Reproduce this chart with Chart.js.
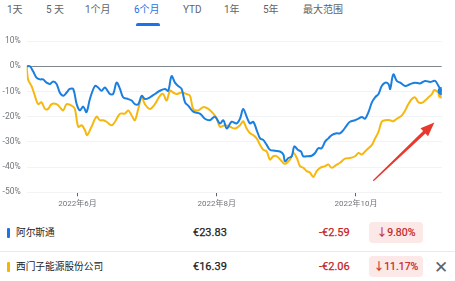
<!DOCTYPE html>
<html>
<head>
<meta charset="utf-8">
<script src="https://cdn.jsdelivr.net/npm/chart.js@4.4.0/dist/chart.umd.min.js"></script>
<style>
  body { margin: 0; width: 455px; height: 281px; background: #fff; position: relative; overflow: hidden;
         font-family: Roboto, 'Noto Sans CJK SC', sans-serif; color: #5f6368; }
  .tab { position: absolute; top: 3px; font-size: 10px; line-height: 14px; color: #5f6368; white-space: nowrap; }
  .tab.active { color: #1a73e8; }
  .underline { position: absolute; left: 136px; top: 23px; width: 24px; height: 3px; background: #1a73e8; border-radius: 2px 2px 0 0; }
  #chartBox { position: absolute; left: 0; top: 30px; width: 455px; height: 185px; }
  .row { position: absolute; left: 0; width: 455px; height: 24px; }
  .row div { position: absolute; top: 0; line-height: 24px; white-space: nowrap; }
  .bar { left: 7px; width: 3px; height: 10px; margin-top: 7px; border-radius: 1px; }
  .name { left: 16px; font-size: 9.7px; color: #202124; }
  .price { left: 193px; font-size: 11px; color: #202124; -webkit-text-stroke: 0.25px #202124; }
  .chg { left: 319px; font-size: 11px; color: #c5221f; -webkit-text-stroke: 0.25px #c5221f; }
  .pill { left: 369px; width: 54px; height: 21px; margin-top: 1px; background: #fce8e6; border-radius: 4px;
          text-align: center; font-size: 10.5px; color: #c5221f; -webkit-text-stroke: 0.2px #c5221f; line-height: 21px !important; }
  .close { left: 434px; font-size: 17px; color: #5f6368; }
  .divider { position: absolute; left: 0; top: 251px; width: 455px; height: 1px; background: #e8eaed; }
</style>
</head>
<body>
<span class="tab" style="left:7px">1天</span>
<span class="tab" style="left:46px">5 天</span>
<span class="tab" style="left:85px">1个月</span>
<span class="tab active" style="left:134px">6个月</span>
<span class="tab" style="left:183px">YTD</span>
<span class="tab" style="left:224px">1年</span>
<span class="tab" style="left:263px">5年</span>
<span class="tab" style="left:303px">最大范围</span>
<div class="underline"></div>

<div id="chartBox"><canvas id="perfChart"></canvas></div>

<div class="row" style="top:221px">
  <div class="bar" style="background:#1a73e8"></div>
  <div class="name">阿尔斯通</div>
  <div class="price">€23.83</div>
  <div class="chg">-€2.59</div>
  <div class="pill">↓9.80%</div>
</div>
<div class="divider"></div>
<div class="row" style="top:255px">
  <div class="bar" style="background:#f4b400"></div>
  <div class="name">西门子能源股份公司</div>
  <div class="price">€16.39</div>
  <div class="chg">-€2.06</div>
  <div class="pill">↓11.17%</div>
  <div class="close">✕</div>
</div>

<script>
// days counted from 2022-06-01, values are % change since start of range
const alstomDays = [-22.3, -20.9, -19.5, -18.0, -16.5, -15.1, -13.6, -12.1, -10.7, -9.2, -7.8, -6.3, -4.8, -3.4, -1.9,
  -0.4, 1.0, 2.5, 3.9, 5.4, 7.6, 9.0, 10.5, 12.0, 14.2, 15.6, 17.1, 18.6, 20.0, 22.2, 23.7, 25.1, 26.6, 28.1, 29.5,
  31.7, 33.9, 36.1, 38.3, 39.7, 41.2, 42.7, 44.1, 45.6, 47.1, 48.5, 50.7, 53.6, 55.8, 58.0, 60.2, 62.4, 63.9, 65.4,
  67.5, 69.7, 71.2, 72.6, 74.1, 75.6, 77.0, 78.5, 80.0, 81.4, 82.9, 84.3, 86.5, 88.7, 90.2, 90.9, 92.4, 93.9, 95.0,
  96.5, 97.9, 98.9, 100.4, 102.6, 104.1, 105.5, 107.0, 108.5, 109.9, 111.4, 113.6, 115.0, 116.5, 118.0, 119.4, 121.6,
  123.1, 124.6, 126.0, 127.5, 129.0, 130.4, 131.9, 133.3, 134.8, 136.3, 137.0, 138.4, 139.9, 141.4, 143.6, 145.7,
  147.9, 150.1, 152.3, 154.5, 156.7, 158.2, 159.6];
const alstomPct = [0, 0, -2, -4.5, -5.2, -5.2, -6.5, -7, -6, -7, -10.4, -11.7, -10.4, -9, -9,
  -15, -17.5, -16, -18.2, -13, -7.8, -8.4, -9.7, -8.4, -11, -11, -6.5, -9, -12.3, -13, -13.6, -15, -15, -11.7, -13,
  -12.3, -11, -9.7, -9, -9.7, -3.9, -6.5, -7.8, -9, -14.3, -15.6, -18, -18.8, -20.8, -21.4, -20, -22.7, -21.4, -24.7,
  -22, -22.7, -20.8, -16.9, -20, -22.7, -22, -25.3, -28.6, -29.2, -31.2, -33.1, -33.5, -33.8, -35, -37.7, -36.4, -35.7, -31.8,
  -33.1, -33.8, -35.7, -35.7, -35.5, -34.4, -32.5, -32.5, -29.9, -28.6, -27.3, -26.6, -26.6, -25.3, -23.4, -22, -21.4,
  -20.8, -20.1, -20.8, -18.2, -14.3, -12.3, -11, -7.8, -6.5, -7.1, -9, -3.2, -5.8, -6.5, -7.8, -7.1,
  -6.5, -6.8, -5.8, -6.2, -5.8, -7.8, -9.8];

const siemensDays = [-22.3, -21.7, -20.2, -18.7, -17.3, -15.8, -14.3, -12.9, -11.4, -9.2, -7.8, -6.3, -4.8, -2.6, -1.2,
  0.3, 1.8, 3.2, 4.2, 6.1, 8.3, 9.8, 11.2, 12.7, 14.9, 16.4, 18.6, 20.7, 22.2, 23.7, 25.1, 26.6, 28.1, 29.5, 31.7,
  33.9, 36.1, 37.5, 39.0, 40.5, 41.9, 43.4, 45.6, 47.8, 49.3, 50.7, 52.9, 55.1, 57.3, 59.5, 61.0, 62.4, 64.6, 66.8,
  69.0, 71.2, 72.6, 74.1, 75.6, 77.0, 78.5, 80.0, 81.4, 82.9, 84.3, 85.8, 87.3, 89.5, 90.9, 93.1, 94.6, 96.1, 97.5,
  99.0, 100.4, 101.9, 103.3, 104.8, 106.3, 108.5, 109.9, 111.4, 113.6, 115.0, 117.2, 119.4, 121.6, 123.1, 124.6,
  126.0, 127.5, 129.0, 130.4, 131.9, 133.3, 134.8, 137.0, 138.4, 139.9, 142.1, 143.6, 145.0, 146.5, 147.9, 149.4,
  150.9, 152.3, 153.8, 155.3, 156.4, 158.2, 159.6];
const siemensPct = [0, -5.2, -7.8, -11.7, -15, -14.3, -16.9, -16.9, -15, -15, -16.2, -17.5, -15, -15.6, -16.9,
  -24, -23.4, -25.3, -27.3, -24, -20, -21.4, -21.4, -22, -23.4, -22, -18.8, -18.8, -17.5, -19.5, -21.4, -16.9, -12.3, -15, -16.9,
  -15, -11.7, -11, -13.6, -9.7, -10.4, -11, -10.4, -11, -11.7, -16.9, -17.5, -16.2, -16.9, -18.8, -20.8, -24, -23.4, -24,
  -24.7, -23.4, -21.8, -24.7, -26.6, -27.3, -28.6, -31.2, -33.1, -33.8, -37, -35.7, -35.7, -37.7, -38.7, -37, -34.4, -36.4, -39.6,
  -40.3, -41.6, -42.2, -43.9, -41.6, -40.3, -39.6, -39, -40.3, -39, -38.3, -36.6, -36.4, -35.7, -34.4, -35,
  -33.8, -32.5, -31.2, -28.6, -26, -22, -21.4, -21.4, -21.8, -20.8, -19.5, -17.5, -15, -13, -12.3, -14.3,
  -14.5, -13.6, -12.3, -11, -9.4, -10.4, -11.17];

const xTickDays = [0, 61, 122];
const xTickLabels = ['2022年6月', '2022年8月', '2022年10月'];
const yTickValues = [10, 0, -10, -20, -30, -40, -50];

// red annotation arrow, in data units (day, %)
const arrowFrom = { x: 129.6, y: -45.4 };
const arrowTo = { x: 156.4, y: -22.3 };

function toPoints(days, vals) {
    return days.map((d, i) => ({ x: d, y: vals[i] }));
}

function endRadius(n) {
    return (ctx) => ctx.dataIndex === n - 1 ? 4 : 0;
}

const arrowPlugin = {
    id: 'arrow',
    afterDatasetsDraw(chart) {
        const { ctx, scales } = chart;
        const x1 = scales.x.getPixelForValue(arrowFrom.x), y1 = scales.y.getPixelForValue(arrowFrom.y);
        const x2 = scales.x.getPixelForValue(arrowTo.x), y2 = scales.y.getPixelForValue(arrowTo.y);
        const ang = Math.atan2(y2 - y1, x2 - x1);
        const len = Math.hypot(x2 - x1, y2 - y1);
        const headLen = 14, headW = 5.5;
        ctx.save();
        ctx.translate(x1, y1);
        ctx.rotate(ang);
        ctx.fillStyle = '#e8392f';
        ctx.beginPath();
        ctx.moveTo(0, -0.6);
        ctx.lineTo(len - headLen, -1.7);
        ctx.lineTo(len - headLen, -headW);
        ctx.lineTo(len, 0);
        ctx.lineTo(len - headLen, headW);
        ctx.lineTo(len - headLen, 1.7);
        ctx.lineTo(0, 0.6);
        ctx.closePath();
        ctx.fill();
        ctx.restore();
    }
};

new Chart(document.getElementById('perfChart'), {
    type: 'line',
    data: {
        datasets: [
            {
                label: '阿尔斯通',
                data: toPoints(alstomDays, alstomPct),
                borderColor: '#1a7fe0',
                backgroundColor: '#1a7fe0',
                borderWidth: 2,
                tension: 0.35,
                pointRadius: endRadius(alstomDays.length),
                pointBorderWidth: 0
            },
            {
                label: '西门子能源股份公司',
                data: toPoints(siemensDays, siemensPct),
                borderColor: '#f6b80f',
                backgroundColor: '#f6b80f',
                borderWidth: 2,
                tension: 0.35,
                pointRadius: endRadius(siemensDays.length),
                pointBorderWidth: 0
            }
        ]
    },
    options: {
        responsive: true,
        maintainAspectRatio: false,
        animation: false,
        layout: { padding: { top: 7.7, right: 13.3, bottom: 0, left: 0 } },
        plugins: { legend: { display: false }, tooltip: { enabled: false } },
        scales: {
            x: {
                type: 'linear',
                min: alstomDays[0],
                max: alstomDays[alstomDays.length - 1],
                afterBuildTicks: (axis) => { axis.ticks = xTickDays.map(v => ({ value: v })); },
                afterFit: (axis) => { axis.height = 22.7; },
                border: { display: false },
                grid: { drawOnChartArea: false, drawTicks: true, tickLength: 4, color: '#5f6368' },
                ticks: {
                    padding: 3,
                    maxRotation: 0,
                    color: '#70757a',
                    font: { size: 8, family: "Roboto, 'Noto Sans CJK SC', sans-serif" },
                    callback: (v) => xTickLabels[xTickDays.indexOf(v)]
                }
            },
            y: {
                min: -50,
                max: 10,
                afterBuildTicks: (axis) => { axis.ticks = yTickValues.map(v => ({ value: v })); },
                afterFit: (axis) => { axis.width = 26.7; },
                border: { display: false },
                grid: {
                    drawTicks: false,
                    color: (c) => c.tick && c.tick.value === 0 ? '#80868b' : '#f1f3f4',
                    lineWidth: 1
                },
                ticks: {
                    padding: 6,
                    color: '#70757a',
                    font: { size: 8.5, family: "Roboto, 'Noto Sans CJK SC', sans-serif" },
                    callback: (v) => v + '%'
                }
            }
        }
    },
    plugins: [arrowPlugin]
});
</script>
</body>
</html>
